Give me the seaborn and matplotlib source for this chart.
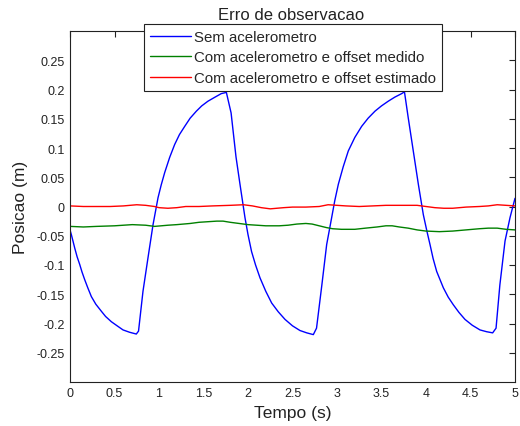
import numpy as np
import pandas as pd
import matplotlib
matplotlib.use("Agg")
import matplotlib.pyplot as plt
import seaborn as sns

# Blue: "Sem acelerometro"
t_blue = [0.0, 0.015, 0.035, 0.053, 0.08, 0.109, 0.135, 0.165, 0.2, 0.24, 0.29,
          0.352, 0.4, 0.465, 0.53, 0.596, 0.67, 0.745,
          0.77, 0.82, 0.876, 0.933, 0.989, 1.025, 1.064, 1.12, 1.176, 1.23,
          1.289, 1.35, 1.42, 1.48, 1.55, 1.63, 1.70, 1.757,
          1.81, 1.865, 1.91, 1.966, 2.0, 2.04, 2.085, 2.135, 2.2, 2.266, 2.34,
          2.416, 2.5, 2.584, 2.66, 2.734,
          2.77, 2.83, 2.884, 2.94, 2.975, 3.015, 3.07, 3.127, 3.2, 3.277, 3.35,
          3.427, 3.5, 3.576, 3.65, 3.727, 3.758,
          3.80, 3.857, 3.914, 3.97, 4.01, 4.045, 4.08, 4.12, 4.195, 4.25,
          4.307, 4.37, 4.438, 4.52, 4.607, 4.68, 4.749,
          4.787, 4.83, 4.888, 4.944, 5.0]
y_blue = [-0.040, -0.048, -0.060, -0.071, -0.086, -0.099, -0.112, -0.125, -0.139, -0.154, -0.167,
          -0.179, -0.188, -0.197, -0.204, -0.211, -0.215, -0.218,
          -0.213, -0.145, -0.088, -0.031, 0.015, 0.037, 0.058, 0.084, 0.106, 0.123,
          0.137, 0.151, 0.163, 0.172, 0.180, 0.187, 0.193, 0.195,
          0.160, 0.085, 0.038, -0.019, -0.048, -0.077, -0.100, -0.122, -0.145, -0.165, -0.180,
          -0.193, -0.204, -0.212, -0.216, -0.219,
          -0.208, -0.134, -0.065, -0.019, 0.010, 0.038, 0.068, 0.095, 0.118, 0.137, 0.151,
          0.163, 0.172, 0.180, 0.187, 0.193, 0.196,
          0.152, 0.095, 0.038, -0.014, -0.042, -0.065, -0.089, -0.111, -0.139, -0.155,
          -0.168, -0.181, -0.193, -0.203, -0.211, -0.214, -0.216,
          -0.208, -0.134, -0.059, -0.019, 0.014]

# Green: "Com acelerometro e offset medido"
t_green = [0.0, 0.15, 0.3, 0.5, 0.7, 0.85, 0.95, 1.1, 1.2, 1.35, 1.45, 1.55,
           1.65, 1.72, 1.8, 1.9, 2.0, 2.1, 2.2, 2.35, 2.45, 2.55, 2.65, 2.72,
           2.8, 2.88, 2.95, 3.05, 3.2, 3.32, 3.45, 3.55, 3.62, 3.7, 3.8, 3.9,
           4.0, 4.15, 4.3, 4.45, 4.6, 4.7, 4.8, 4.9, 5.0]
y_green = [-0.034, -0.035, -0.034, -0.033, -0.031, -0.032, -0.034, -0.032,
           -0.031, -0.029, -0.027, -0.026, -0.025, -0.025, -0.027, -0.029,
           -0.031, -0.032, -0.033, -0.033, -0.032, -0.030, -0.029, -0.030,
           -0.033, -0.036, -0.038, -0.039, -0.039, -0.037, -0.035, -0.033,
           -0.033, -0.035, -0.037, -0.040, -0.042, -0.043, -0.042, -0.040,
           -0.038, -0.037, -0.037, -0.039, -0.040]

# Red: "Com acelerometro e offset estimado"
t_red = [0.0, 0.15, 0.3, 0.45, 0.6, 0.75, 0.85, 0.95, 1.0, 1.1, 1.2, 1.3,
         1.45, 1.6, 1.8, 1.95, 2.05, 2.15, 2.25, 2.4, 2.5, 2.65, 2.8, 2.9,
         3.0, 3.1, 3.25, 3.4, 3.55, 3.7, 3.8, 3.9, 4.0, 4.1, 4.2, 4.3, 4.45,
         4.6, 4.7, 4.8, 4.9, 5.0]
y_red = [0.001, 0.0, 0.0, 0.0, 0.001, 0.003, 0.002, 0.0, -0.002, -0.003,
         -0.002, 0.0, 0.0, 0.001, 0.002, 0.003, 0.001, -0.002, -0.004, -0.002,
         -0.001, -0.001, 0.0, 0.003, 0.002, 0.001, 0.0, 0.001, 0.002, 0.002,
         0.002, 0.002, 0.0, -0.002, -0.003, -0.003, -0.001, 0.0, 0.001, 0.003,
         0.002, 0.001]

labels = ["Sem acelerometro", "Com acelerometro e offset medido",
          "Com acelerometro e offset estimado"]
x_ticks = [0, 0.5, 1, 1.5, 2, 2.5, 3, 3.5, 4, 4.5, 5]
x_ticklabels = ["0", "0.5", "1", "1.5", "2", "2.5", "3", "3.5", "4", "4.5", "5"]
y_ticks = [-0.25, -0.2, -0.15, -0.1, -0.05, 0, 0.05, 0.1, 0.15, 0.2, 0.25]
y_ticklabels = ["-0.25", "-0.2", "-0.15", "-0.1", "-0.05", "0",
                "0.05", "0.1", "0.15", "0.2", "0.25"]

df = pd.concat([
    pd.DataFrame({"t": t_blue, "y": y_blue, "serie": labels[0]}),
    pd.DataFrame({"t": t_green, "y": y_green, "serie": labels[1]}),
    pd.DataFrame({"t": t_red, "y": y_red, "serie": labels[2]}),
])

sns.set_style("white")
plt.rcParams["font.family"] = ["Liberation Sans", "DejaVu Sans"]

fig = plt.figure(figsize=(5.2, 4.27), dpi=100)
ax = fig.add_axes([70/520, 1-383/427, 445/520, 351/427])

palette = {labels[0]: "#0000ff", labels[1]: "#008000", labels[2]: "#ff0000"}
widths = {labels[0]: 1.0, labels[1]: 2.2, labels[2]: 2.2}
for lab in labels:
    sub = df[df["serie"] == lab]
    sns.lineplot(data=sub, x="t", y="y", ax=ax, color=palette[lab],
                 linewidth=widths[lab], label=lab, sort=False, estimator=None)

ax.set_xlim(0, 5)
ax.set_ylim(-0.3, 0.3)
ax.set_xticks(x_ticks)
ax.set_xticklabels(x_ticklabels)
ax.set_yticks(y_ticks)
ax.set_yticklabels(y_ticklabels)
ax.tick_params(direction="in", length=4, width=0.8, top=True, right=True,
               labelsize=9, colors="#222222", pad=3.6)
for s in ax.spines.values():
    s.set_color("#222222")
    s.set_linewidth(0.8)

ax.set_xlabel("Tempo (s)", fontsize=12.5, color="#222222", labelpad=4)
ax.set_ylabel("Posicao (m)", fontsize=12.5, color="#222222", labelpad=6)
fig.text(291/520, 1-15/427, "Erro de observacao", ha="center", va="center",
         fontsize=12, color="#222222")

ax.get_legend().remove()
handles, labs = ax.get_legend_handles_labels()
for h in handles:
    h.set_linewidth(1.0)
leg = fig.legend(handles, labs, loc="upper left",
                 bbox_to_anchor=(144/520, 1-25/427), fontsize=10.8,
                 frameon=True, fancybox=False, framealpha=1,
                 edgecolor="#222222", handlelength=2.7, handletextpad=0.25,
                 labelspacing=0.43, borderpad=0.4, borderaxespad=0)
leg.get_frame().set_linewidth(0.8)

fig.savefig("out.png", dpi=100)
